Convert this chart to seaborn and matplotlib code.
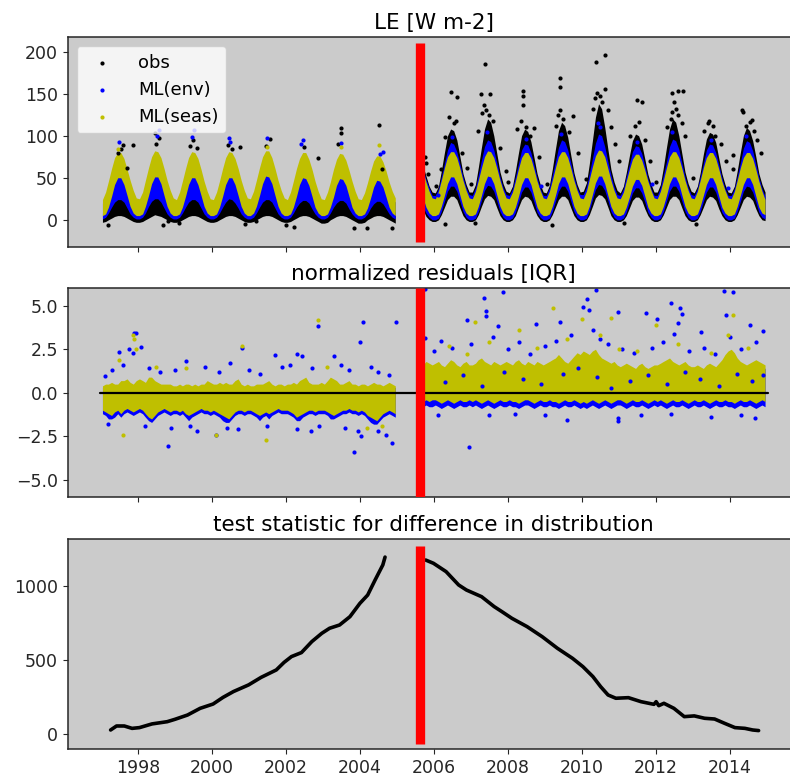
import numpy as np
import pandas as pd
import matplotlib
matplotlib.use('Agg')
import matplotlib.pyplot as plt
import seaborn as sns

# ---------------- data ----------------
# monthly envelope of the point clouds, one row per year (Jan..Dec)
# period 1: 1997-2004, period 2: Sep 2005 - Dec 2014 (first row Sep..Dec)

# LE [W m-2], ML(seas) (yellow)
le_seas_hi_p1 = [[24, 33, 46, 61, 74, 80, 80, 73, 60, 47, 35, 26],
                 [25, 33, 47, 62, 75, 82, 81, 74, 61, 47, 35, 26],
                 [24, 33, 46, 61, 74, 81, 80, 73, 60, 46, 34, 25],
                 [24, 33, 46, 61, 74, 81, 80, 73, 61, 47, 35, 26],
                 [25, 34, 47, 62, 75, 82, 82, 74, 61, 47, 35, 26],
                 [24, 33, 46, 61, 73, 80, 80, 72, 60, 46, 34, 25],
                 [24, 33, 45, 60, 72, 79, 78, 71, 59, 46, 34, 25],
                 [24, 32, 44, 58, 70, 76, 76, 69, 58, 45, 34, 26]]
le_seas_lo_p1 = [[5, 7, 15, 28, 42, 50, 50, 42, 29, 16, 8, 5],
                 [5, 7, 16, 29, 43, 51, 51, 43, 29, 16, 8, 5],
                 [5, 7, 15, 28, 42, 50, 50, 42, 29, 16, 8, 5],
                 [5, 7, 15, 28, 42, 50, 50, 42, 29, 16, 8, 5],
                 [5, 8, 16, 29, 43, 52, 51, 43, 29, 16, 8, 5],
                 [5, 7, 15, 28, 42, 50, 49, 41, 28, 15, 8, 5],
                 [5, 7, 15, 27, 41, 49, 48, 41, 28, 15, 8, 5],
                 [5, 7, 14, 26, 39, 47, 46, 39, 27, 15, 8, 5]]
le_seas_hi_p2 = [[58, 45, 34, 26],
                 [25, 34, 47, 62, 75, 81, 81, 74, 61, 47, 35, 26],
                 [25, 34, 47, 62, 75, 82, 81, 74, 61, 47, 35, 26],
                 [25, 33, 46, 61, 74, 80, 80, 73, 60, 46, 35, 26],
                 [25, 34, 47, 62, 75, 81, 81, 74, 61, 47, 35, 26],
                 [25, 34, 48, 63, 76, 83, 82, 75, 61, 47, 35, 26],
                 [25, 33, 46, 60, 72, 78, 78, 71, 59, 46, 35, 26],
                 [25, 34, 47, 62, 75, 81, 81, 74, 61, 47, 35, 26],
                 [25, 34, 47, 62, 74, 80, 80, 73, 60, 46, 35, 26],
                 [25, 34, 47, 62, 74, 80, 80, 73, 60, 46, 34, 24]]
le_seas_lo_p2 = [[26, 15, 8, 5],
                 [5, 7, 16, 29, 43, 51, 51, 43, 29, 16, 8, 5],
                 [5, 7, 16, 29, 43, 52, 51, 43, 29, 16, 8, 5],
                 [5, 7, 15, 28, 42, 50, 50, 42, 28, 15, 8, 5],
                 [5, 7, 16, 29, 43, 51, 51, 43, 29, 16, 8, 5],
                 [5, 7, 16, 30, 44, 52, 52, 43, 29, 16, 8, 5],
                 [5, 7, 15, 27, 40, 48, 48, 41, 28, 15, 8, 5],
                 [5, 7, 16, 29, 43, 51, 51, 43, 29, 16, 8, 5],
                 [5, 7, 16, 29, 42, 50, 50, 42, 28, 15, 8, 5],
                 [5, 7, 16, 29, 42, 50, 50, 42, 28, 15, 8, 6]]

# LE, ML(env) (blue)
le_env_hi_p1 = [[20, 26, 36, 50, 64, 74, 74, 64, 50, 36, 26, 20],
                [20, 26, 37, 52, 66, 78, 77, 65, 51, 37, 26, 20],
                [20, 26, 36, 51, 65, 77, 76, 65, 50, 36, 26, 20],
                [20, 26, 36, 50, 64, 75, 74, 64, 50, 36, 26, 20],
                [20, 26, 36, 50, 64, 75, 75, 64, 50, 36, 26, 20],
                [20, 26, 36, 50, 63, 73, 73, 63, 50, 36, 26, 20],
                [20, 26, 36, 49, 62, 71, 71, 62, 49, 36, 26, 20],
                [20, 25, 34, 46, 58, 66, 66, 58, 46, 35, 26, 21]]
le_env_lo_p1 = [[1, 3, 8, 15, 21, 24, 24, 21, 14, 7, 3, 1],
                [1, 3, 8, 16, 22, 25, 25, 21, 14, 7, 3, 1],
                [1, 3, 8, 15, 21, 24, 24, 21, 14, 7, 3, 1],
                [1, 3, 8, 15, 21, 25, 24, 20, 14, 7, 3, 1],
                [1, 3, 8, 15, 21, 24, 24, 21, 14, 7, 3, 1],
                [1, 3, 8, 15, 20, 23, 23, 20, 13, 7, 3, 1],
                [1, 3, 8, 15, 20, 23, 23, 20, 13, 7, 3, 1],
                [1, 3, 7, 14, 19, 22, 22, 19, 13, 7, 3, 1]]
le_env_hi_p2 = [[60, 48, 38, 29],
                [29, 37, 51, 67, 83, 92, 90, 81, 66, 51, 38, 30],
                [29, 38, 53, 71, 87, 95, 93, 83, 67, 51, 38, 30],
                [29, 37, 51, 67, 83, 90, 89, 80, 65, 50, 37, 29],
                [29, 38, 53, 69, 86, 95, 93, 83, 67, 51, 38, 30],
                [30, 39, 55, 73, 91, 102, 100, 87, 69, 53, 39, 30],
                [29, 37, 51, 66, 81, 88, 87, 79, 64, 49, 37, 29],
                [29, 38, 53, 69, 87, 96, 94, 84, 67, 51, 38, 30],
                [29, 37, 51, 67, 83, 90, 89, 80, 65, 50, 37, 29],
                [29, 37, 51, 68, 85, 94, 92, 82, 66, 50, 37, 28]]
le_env_lo_p2 = [[16, 8, 3, 0],
                [0, 2, 10, 22, 34, 40, 40, 34, 22, 10, 3, 0],
                [0, 2, 10, 23, 35, 41, 40, 34, 22, 10, 3, 0],
                [0, 2, 9, 21, 33, 39, 39, 33, 21, 9, 3, 0],
                [0, 2, 10, 22, 34, 40, 40, 34, 22, 10, 3, 0],
                [0, 2, 11, 24, 36, 42, 41, 35, 23, 10, 3, 0],
                [0, 2, 9, 21, 32, 38, 38, 32, 21, 9, 3, 0],
                [0, 2, 10, 22, 34, 40, 40, 34, 22, 10, 3, 0],
                [0, 2, 10, 22, 33, 39, 39, 33, 21, 9, 3, 0],
                [0, 2, 10, 22, 34, 40, 39, 33, 21, 9, 3, 1]]

# LE, obs (black)
le_obs_hi_p1 = [[8, 12, 18, 28, 38, 45, 45, 38, 28, 18, 12, 8],
                [8, 12, 19, 30, 40, 47, 46, 39, 28, 18, 12, 8],
                [8, 12, 18, 29, 39, 46, 45, 38, 28, 18, 12, 8],
                [8, 12, 18, 28, 38, 45, 45, 38, 28, 18, 12, 8],
                [8, 12, 18, 29, 39, 46, 45, 38, 28, 18, 12, 8],
                [8, 12, 18, 28, 37, 44, 44, 37, 27, 18, 12, 8],
                [8, 12, 18, 28, 37, 44, 43, 36, 27, 18, 12, 8],
                [8, 11, 17, 26, 35, 42, 42, 35, 26, 17, 12, 9]]
le_obs_lo_p1 = [[-3, -2, 0, 2, 4, 5, 5, 4, 2, 0, -2, -3],
                [-3, -2, 0, 2, 4, 6, 5, 4, 2, 0, -2, -3],
                [-3, -2, 0, 2, 4, 5, 5, 4, 2, 0, -2, -3],
                [-3, -2, 0, 2, 4, 5, 5, 4, 2, 0, -2, -3],
                [-3, -2, 0, 2, 4, 5, 5, 4, 2, 0, -2, -3],
                [-3, -2, 0, 2, 4, 5, 5, 4, 2, 0, -2, -4],
                [-4, -3, 0, 2, 4, 5, 5, 4, 2, 0, -2, -4],
                [-4, -3, 0, 2, 4, 5, 5, 4, 2, 0, -2, -4]]
le_obs_hi_p2 = [[64, 52, 40, 33],
                [32, 40, 58, 80, 100, 108, 106, 95, 75, 55, 42, 33],
                [33, 42, 62, 86, 108, 120, 116, 100, 78, 57, 43, 34],
                [32, 40, 58, 80, 100, 108, 105, 93, 74, 55, 42, 33],
                [32, 41, 60, 84, 106, 116, 112, 98, 76, 56, 42, 33],
                [34, 44, 66, 94, 122, 138, 132, 110, 84, 60, 45, 35],
                [32, 40, 56, 76, 94, 102, 100, 90, 72, 54, 42, 33],
                [33, 42, 62, 86, 108, 120, 116, 100, 78, 57, 43, 34],
                [32, 40, 56, 78, 96, 104, 102, 92, 73, 55, 42, 33],
                [32, 40, 58, 80, 100, 110, 106, 94, 75, 55, 42, 33]]
le_obs_lo_p2 = [[12, 4, 0, -2],
                [-2, 0, 6, 15, 24, 28, 28, 24, 14, 5, 0, -2],
                [-2, 0, 6, 16, 25, 29, 28, 24, 14, 5, 0, -2],
                [-2, 0, 5, 15, 24, 28, 27, 23, 13, 5, 0, -2],
                [-2, 0, 6, 15, 24, 28, 28, 24, 14, 5, 0, -2],
                [-2, 0, 6, 16, 26, 30, 29, 25, 15, 5, 0, -2],
                [-2, 0, 5, 14, 23, 27, 27, 23, 13, 5, 0, -2],
                [-2, 0, 6, 15, 24, 28, 28, 24, 14, 5, 0, -2],
                [-2, 0, 6, 15, 24, 28, 27, 23, 13, 5, 0, -2],
                [-2, 0, 6, 15, 24, 28, 27, 23, 13, 5, 0, -1]]

# scattered single points, LE panel (decimal year, W m-2)
obs_pt_year = [1997.20, 1997.45, 1997.55, 1997.59, 1997.70, 1997.86, 1998.45, 1998.50, 1998.56,
               1998.69, 1998.81, 1999.10, 1999.42, 1999.48, 1999.60, 2000.43, 2000.55, 2000.77,
               2000.90, 2001.20, 2001.45, 2001.58, 2002.00, 2002.23, 2002.50, 2002.88, 2003.42,
               2003.49, 2003.49, 2003.85, 2004.19, 2004.51, 2004.60, 2004.87,
               2005.75, 2005.78, 2005.85, 2006.05, 2006.20, 2006.30, 2006.40, 2006.47, 2006.55,
               2006.60, 2006.62, 2006.75, 2006.90, 2007.00, 2007.20, 2007.28, 2007.30, 2007.35,
               2007.39, 2007.42, 2007.50, 2007.53, 2007.60, 2007.80, 2007.95, 2008.00, 2008.25,
               2008.35, 2008.40, 2008.40, 2008.40, 2008.50, 2008.60, 2008.70, 2008.85, 2009.05,
               2009.30, 2009.35, 2009.41, 2009.41, 2009.42, 2009.50, 2009.65, 2009.76, 2009.90,
               2010.10, 2010.30, 2010.35, 2010.39, 2010.41, 2010.50, 2010.55, 2010.63, 2010.64,
               2010.70, 2010.80, 2010.90, 2011.00, 2011.30, 2011.45, 2011.49, 2011.55, 2011.62,
               2011.70, 2011.85, 2012.00, 2012.30, 2012.40, 2012.43, 2012.45, 2012.50, 2012.55,
               2012.59, 2012.60, 2012.70, 2012.73, 2012.80, 2013.00, 2013.30, 2013.40, 2013.45,
               2013.55, 2013.60, 2013.75, 2013.90, 2014.08, 2014.10, 2014.32, 2014.35, 2014.45,
               2014.55, 2014.60, 2014.65, 2014.75, 2014.85, 2006.30, 2007.10, 2009.20, 2011.15,
               2013.10]
obs_pt_val = [-6, 80, 84, 89, 62, 89, 103, 90, 97,
              -6, -2, -4, 88, 95, 85, 89, 84, 87,
              -5, -1, 88, 96, -6, -9, 86, 74, 90,
              103, 109, -10, -10, 113, 60, -10,
              75, 68, 55, 40, 60, 98, 122, 152, 115,
              118, 146, 80, 62, 42, 105, 149, 127, 137,
              185, 131, 125, 149, 118, 85, 58, 45, 108,
              118, 137, 147, 153, 110, 100, 109, 75, 42,
              112, 125, 158, 169, 131, 120, 104, 124, 80,
              48, 132, 145, 188, 151, 147, 140, 155, 196,
              130, 110, 90, 70, 100, 112, 142, 116, 140,
              95, 70, 45, 110, 120, 151, 128, 140, 132,
              153, 125, 115, 153, 100, 50, 105, 115, 118,
              112, 100, 90, 70, 77, 60, 130, 128, 112,
              116, 119, 105, 95, 80, -5, -4, -6, -4,
              -5]
env_pt_year = [1997.50, 1998.52, 1998.56, 1999.45, 1999.51, 2000.45, 2000.50, 2001.50, 2002.40,
               2002.46, 2003.49, 2004.55, 2004.62, 2006.50, 2007.45, 2008.50, 2009.45, 2010.45,
               2010.50, 2011.50, 2012.45, 2013.50, 2014.45, 2006.10, 2008.90, 2011.90, 2013.95]
env_pt_val = [93, 100, 107, 98, 107, 97, 92, 97, 90,
              95, 91, 78, 81, 98, 104, 96, 102, 115,
              110, 92, 104, 95, 100, 30, 40, 42, 38]
seas_pt_year = [1997.45, 2001.50, 2003.50, 2004.51]
seas_pt_val = [84, 86, 86, 89]

# normalized residuals [IQR], envelopes
res_seas_hi_p1 = [[0.4, 0.5, 0.5, 0.6, 0.5, 0.5, 0.7, 0.7, 0.8, 0.6, 0.5, 0.7],
                  [0.8, 0.7, 0.6, 0.9, 0.9, 0.7, 0.6, 0.5, 0.5, 0.5, 0.5, 0.4],
                  [0.4, 0.5, 0.4, 0.5, 0.5, 0.4, 0.5, 0.4, 0.5, 0.5, 0.7, 0.6],
                  [0.5, 0.5, 0.6, 0.5, 0.6, 0.5, 0.5, 0.7, 0.8, 0.5, 0.4, 0.5],
                  [0.4, 0.4, 0.5, 0.5, 0.5, 0.6, 0.7, 0.5, 0.4, 0.5, 0.5, 0.4],
                  [0.5, 0.5, 0.6, 0.5, 0.7, 0.8, 0.9, 0.6, 0.5, 0.5, 0.5, 0.6],
                  [0.5, 0.7, 0.9, 0.8, 0.7, 0.5, 0.5, 0.6, 0.7, 0.5, 0.5, 0.4],
                  [0.5, 0.5, 0.4, 0.5, 0.6, 0.5, 0.5, 0.4, 0.5, 0.6, 0.5, 0.4]]
res_seas_lo_p1 = [[-1.0, -1.1, -1.2, -1.3, -1.1, -1.0, -1.2, -1.0, -0.9, -1.0, -1.1, -1.0],
                  [-0.9, -1.0, -1.2, -1.4, -1.5, -1.3, -1.1, -1.0, -0.9, -1.0, -1.1, -1.0],
                  [-1.0, -1.1, -1.0, -1.2, -1.3, -1.2, -1.1, -1.0, -0.9, -1.0, -1.0, -1.1],
                  [-1.0, -1.1, -1.2, -1.3, -1.4, -1.5, -1.3, -1.1, -1.0, -1.0, -1.1, -1.0],
                  [-1.0, -1.1, -1.2, -1.3, -1.2, -1.1, -1.2, -1.1, -1.0, -0.9, -1.0, -1.0],
                  [-1.0, -1.1, -1.2, -1.4, -1.3, -1.2, -1.1, -1.0, -1.0, -1.1, -1.0, -1.0],
                  [-1.0, -1.1, -1.2, -1.3, -1.2, -1.1, -1.0, -1.0, -0.9, -1.0, -1.0, -1.1],
                  [-1.0, -1.1, -1.3, -1.4, -1.5, -1.6, -1.4, -1.2, -1.1, -1.0, -1.1, -1.2]]
res_env_hi_p1 = [[0.3, 0.4, 0.4, 0.5, 0.4, 0.4, 0.6, 0.6, 0.7, 0.5, 0.4, 0.6],
                 [0.7, 0.6, 0.5, 0.8, 0.8, 0.6, 0.5, 0.4, 0.4, 0.4, 0.4, 0.3],
                 [0.3, 0.4, 0.3, 0.4, 0.4, 0.3, 0.4, 0.3, 0.4, 0.4, 0.6, 0.5],
                 [0.4, 0.4, 0.5, 0.4, 0.5, 0.4, 0.4, 0.6, 0.7, 0.4, 0.3, 0.4],
                 [0.3, 0.3, 0.4, 0.4, 0.4, 0.5, 0.6, 0.4, 0.3, 0.4, 0.4, 0.3],
                 [0.4, 0.4, 0.5, 0.4, 0.6, 0.7, 0.8, 0.5, 0.4, 0.4, 0.4, 0.5],
                 [0.4, 0.6, 0.8, 0.7, 0.6, 0.4, 0.4, 0.5, 0.6, 0.4, 0.4, 0.3],
                 [0.4, 0.4, 0.3, 0.4, 0.5, 0.4, 0.4, 0.3, 0.4, 0.5, 0.4, 0.3]]
res_env_lo_p1 = [[-1.2, -1.3, -1.5, -1.5, -1.4, -1.2, -1.4, -1.2, -1.1, -1.2, -1.3, -1.2],
                 [-1.1, -1.2, -1.4, -1.6, -1.7, -1.5, -1.3, -1.2, -1.1, -1.2, -1.3, -1.2],
                 [-1.2, -1.3, -1.2, -1.4, -1.6, -1.4, -1.3, -1.2, -1.1, -1.2, -1.2, -1.3],
                 [-1.2, -1.3, -1.4, -1.6, -1.7, -1.7, -1.5, -1.3, -1.2, -1.2, -1.3, -1.2],
                 [-1.2, -1.3, -1.4, -1.6, -1.4, -1.3, -1.5, -1.3, -1.2, -1.1, -1.2, -1.2],
                 [-1.2, -1.3, -1.4, -1.6, -1.6, -1.4, -1.3, -1.2, -1.2, -1.3, -1.2, -1.2],
                 [-1.2, -1.3, -1.5, -1.5, -1.4, -1.3, -1.2, -1.2, -1.1, -1.2, -1.2, -1.3],
                 [-1.2, -1.3, -1.5, -1.7, -1.8, -1.8, -1.6, -1.4, -1.3, -1.2, -1.3, -1.4]]
res_seas_hi_p2 = [[1.6, 1.8, 1.7, 1.6],
                  [1.7, 1.8, 1.6, 1.5, 1.7, 1.9, 1.8, 1.6, 1.5, 1.7, 1.8, 1.6],
                  [1.6, 1.7, 1.9, 2.0, 1.8, 1.7, 1.6, 1.8, 1.7, 1.6, 1.7, 1.8],
                  [1.7, 1.6, 1.8, 1.9, 1.7, 1.6, 1.8, 1.7, 1.6, 1.8, 1.7, 1.6],
                  [1.7, 1.8, 1.9, 2.0, 2.2, 2.0, 1.8, 1.7, 1.9, 2.1, 2.3, 2.2],
                  [2.4, 2.3, 2.2, 2.4, 2.5, 2.2, 2.0, 1.9, 1.8, 1.7, 1.8, 1.6],
                  [1.5, 1.6, 1.7, 1.6, 1.5, 1.4, 1.6, 1.7, 1.5, 1.4, 1.5, 1.6],
                  [1.6, 1.7, 1.8, 1.9, 2.0, 1.8, 1.7, 1.6, 1.7, 1.8, 1.6, 1.5],
                  [1.5, 1.6, 1.5, 1.4, 1.6, 1.7, 1.6, 1.5, 1.7, 1.9, 2.2, 2.4],
                  [2.5, 2.3, 2.0, 1.8, 1.7, 1.6, 1.7, 1.8, 1.9, 1.8, 1.7, 1.6]]
res_seas_lo_p2 = [[-0.5, -0.4, -0.5, -0.4],
                  [-0.4, -0.5, -0.6, -0.5, -0.4, -0.5, -0.6, -0.5, -0.4, -0.5, -0.5, -0.4],
                  [-0.5, -0.4, -0.5, -0.6, -0.5, -0.4, -0.5, -0.6, -0.5, -0.4, -0.5, -0.5],
                  [-0.4, -0.5, -0.5, -0.6, -0.5, -0.4, -0.4, -0.5, -0.6, -0.5, -0.4, -0.5],
                  [-0.5, -0.4, -0.5, -0.5, -0.6, -0.5, -0.4, -0.5, -0.5, -0.4, -0.5, -0.6],
                  [-0.5, -0.6, -0.5, -0.4, -0.5, -0.6, -0.5, -0.4, -0.5, -0.6, -0.5, -0.4],
                  [-0.4, -0.5, -0.6, -0.5, -0.4, -0.5, -0.5, -0.4, -0.5, -0.6, -0.5, -0.4],
                  [-0.5, -0.4, -0.5, -0.6, -0.5, -0.4, -0.5, -0.5, -0.4, -0.5, -0.6, -0.5],
                  [-0.4, -0.5, -0.5, -0.4, -0.5, -0.6, -0.5, -0.4, -0.5, -0.5, -0.4, -0.5],
                  [-0.5, -0.6, -0.5, -0.4, -0.5, -0.5, -0.4, -0.5, -0.6, -0.5, -0.4, -0.5]]
res_env_hi_p2 = [[1.4, 1.6, 1.5, 1.4],
                 [1.5, 1.6, 1.4, 1.3, 1.5, 1.7, 1.6, 1.4, 1.3, 1.5, 1.6, 1.4],
                 [1.4, 1.5, 1.7, 1.8, 1.6, 1.5, 1.4, 1.6, 1.5, 1.4, 1.5, 1.6],
                 [1.5, 1.4, 1.6, 1.7, 1.5, 1.4, 1.6, 1.5, 1.4, 1.6, 1.5, 1.4],
                 [1.5, 1.6, 1.7, 1.8, 2.0, 1.8, 1.6, 1.5, 1.7, 1.9, 2.1, 2.0],
                 [2.2, 2.1, 2.0, 2.2, 2.3, 2.0, 1.8, 1.7, 1.6, 1.5, 1.6, 1.4],
                 [1.3, 1.4, 1.5, 1.4, 1.3, 1.2, 1.4, 1.5, 1.3, 1.2, 1.3, 1.4],
                 [1.4, 1.5, 1.6, 1.7, 1.8, 1.6, 1.5, 1.4, 1.5, 1.6, 1.4, 1.3],
                 [1.3, 1.4, 1.3, 1.2, 1.4, 1.5, 1.4, 1.3, 1.5, 1.7, 2.0, 2.2],
                 [2.3, 2.1, 1.8, 1.6, 1.5, 1.4, 1.5, 1.6, 1.7, 1.6, 1.5, 1.4]]
res_env_lo_p2 = [[-0.8, -0.7, -0.8, -0.8],
                 [-0.7, -0.8, -0.9, -0.8, -0.7, -0.8, -0.9, -0.8, -0.7, -0.8, -0.8, -0.7],
                 [-0.8, -0.7, -0.8, -0.9, -0.8, -0.7, -0.8, -0.9, -0.8, -0.7, -0.8, -0.8],
                 [-0.7, -0.8, -0.8, -0.9, -0.8, -0.7, -0.7, -0.8, -0.9, -0.8, -0.7, -0.8],
                 [-0.8, -0.7, -0.8, -0.8, -0.9, -0.8, -0.7, -0.8, -0.8, -0.7, -0.8, -0.9],
                 [-0.8, -0.9, -0.8, -0.7, -0.8, -0.9, -0.8, -0.7, -0.8, -0.9, -0.8, -0.7],
                 [-0.7, -0.8, -0.9, -0.8, -0.7, -0.8, -0.8, -0.7, -0.8, -0.9, -0.8, -0.7],
                 [-0.8, -0.7, -0.8, -0.9, -0.8, -0.7, -0.8, -0.8, -0.7, -0.8, -0.9, -0.8],
                 [-0.7, -0.8, -0.8, -0.7, -0.8, -0.9, -0.8, -0.7, -0.8, -0.8, -0.7, -0.8],
                 [-0.8, -0.9, -0.8, -0.7, -0.8, -0.8, -0.7, -0.8, -0.9, -0.8, -0.7, -0.8]]

# scattered single points, residual panel (decimal year, IQR)
res_env_pt_year = [1997.12, 1997.48, 1997.77, 1997.86, 1997.88, 1997.95, 1998.09, 1998.81, 2000.81,
                   2001.71, 2002.10, 2002.30, 2002.43, 2002.86, 2003.31, 2003.99, 2004.08, 2004.98,
                   2003.84, 2004.86, 2003.96, 2004.02, 1999.59, 2002.68, 2000.12,
                   1997.30, 1997.60, 1998.30, 1998.60, 1999.00, 1999.30, 1999.80, 2000.20, 2000.50,
                   2001.00, 2001.30, 2001.90, 2002.70, 2003.50, 2003.70, 2004.30, 2004.50, 2004.80,
                   1997.20, 1998.20, 1998.90, 1999.40, 2000.40, 2000.70, 2001.50, 2002.30, 2002.90,
                   2003.60, 2004.50, 2004.70,
                   2005.75, 2005.75, 2007.88, 2007.35, 2007.40, 2007.40, 2006.89, 2006.96, 2007.73,
                   2008.75, 2009.42, 2010.14, 2010.03, 2010.39, 2010.20, 2010.99, 2011.74, 2012.03,
                   2012.41, 2012.66, 2012.70, 2012.60, 2013.23, 2013.84, 2014.10, 2013.90, 2014.55,
                   2014.89, 2010.97, 2010.97, 2009.59, 2014.67,
                   2006.00, 2006.20, 2006.50, 2007.00, 2007.60, 2008.00, 2008.30, 2008.60, 2009.00,
                   2009.30, 2009.70, 2010.30, 2010.50, 2010.70, 2011.10, 2011.40, 2011.90, 2012.20,
                   2012.50, 2012.90, 2013.30, 2013.60, 2014.00, 2014.30, 2014.70,
                   2006.30, 2006.80, 2007.30, 2007.90, 2008.40, 2008.90, 2009.50, 2009.90, 2010.40,
                   2010.80, 2011.30, 2011.80, 2012.30, 2012.80, 2013.20, 2013.70, 2014.20, 2014.60,
                   2014.90, 2006.10, 2007.50, 2008.20, 2009.00, 2011.60, 2012.40, 2013.50, 2014.30]
res_env_pt_val = [0.96, 2.34, 2.50, 2.27, 3.46, 3.42, 2.63, -3.04, 2.56,
                  2.15, 1.60, 2.20, 2.10, 3.85, 2.10, 2.92, 4.04, 4.04,
                  -3.40, -2.88, -2.20, -2.50, -2.20, -2.20, -2.40,
                  1.3, 1.6, 1.4, 1.2, 1.3, 1.8, 1.5, 1.2, 1.7,
                  1.3, 1.1, 1.5, 1.4, 1.6, 1.3, 1.5, 1.2, 1.0,
                  -1.8, -1.9, -2.0, -1.9, -2.0, -2.1, -1.9, -2.1, -1.9,
                  -2.0, -2.2, -2.4,
                  5.96, 3.17, 5.80, 5.44, 4.67, 4.42, 4.19, -3.12, 3.85,
                  3.94, 4.04, 5.38, 4.90, 5.92, 4.75, 4.65, 4.60, 4.23,
                  5.15, 4.87, 4.52, 4.00, 3.50, 5.83, 5.81, 4.48, 3.88,
                  3.56, -1.44, -1.63, -1.58, -1.44,
                  2.4, 3.0, 2.6, 2.8, 3.2, 2.5, 2.9, 2.2, 2.7,
                  3.0, 3.3, 3.6, 3.1, 2.8, 2.5, 2.3, 2.6, 2.9,
                  3.4, 2.4, 2.6, 2.2, 3.2, 2.5, 2.9,
                  0.6, 1.0, 0.4, 1.2, 0.8, 0.5, 1.1, 1.4, 0.9,
                  0.3, 0.7, 1.0, 0.5, 1.2, 0.8, 0.4, 1.1, 0.7,
                  1.0, -1.3, -1.3, -1.2, -1.3, -1.3, -1.2, -1.4, -1.3]
res_seas_pt_year = [1997.86, 1997.88, 1997.50, 2000.81, 2002.86, 2001.47, 1997.59, 2000.12, 1997.95,
                    1998.50, 2003.10, 2004.20, 2004.60, 1999.30,
                    2009.23, 2010.00, 2007.10, 2010.80, 2012.00, 2014.10, 2008.30, 2006.40, 2007.50,
                    2008.80, 2009.60, 2010.50, 2011.50, 2012.60, 2013.50, 2013.95, 2014.50, 2006.90,
                    2011.00]
res_seas_pt_val = [3.3, 3.1, 1.9, 2.7, 4.17, -2.7, -2.4, -2.4, 2.5,
                   1.5, 1.5, -2.0, -1.9, 1.4,
                   4.85, 4.23, 4.04, 4.30, 3.90, 4.48, 3.60, 2.70, 2.90,
                   2.60, 3.10, 3.30, 2.40, 2.80, 2.30, 3.30, 2.60, 2.20,
                   2.50]

# test statistic
stat_year_p1 = [1997.26, 1997.42, 1997.63, 1997.84, 1998.04, 1998.38, 1998.79, 1999.00, 1999.34,
                1999.68, 2000.03, 2000.30, 2000.58, 2000.99, 2001.33, 2001.74, 2001.95, 2002.15,
                2002.42, 2002.70, 2002.97, 2003.18, 2003.45, 2003.73, 2004.00, 2004.21, 2004.41,
                2004.62, 2004.68]
stat_p1 = [29, 56, 56, 40, 45, 70, 85, 101, 130,
           175, 204, 249, 288, 333, 384, 434, 485, 524,
           551, 625, 681, 715, 737, 793, 883, 939, 1040,
           1142, 1195]
stat_year_p2 = [2005.78, 2005.99, 2006.33, 2006.67, 2006.88, 2007.29, 2007.63, 2007.84, 2008.11,
                2008.52, 2008.93, 2009.34, 2009.75, 2010.03, 2010.30, 2010.51, 2010.71, 2010.92,
                2011.26, 2011.60, 2011.95, 2012.01, 2012.08, 2012.22, 2012.49, 2012.77, 2013.04,
                2013.32, 2013.59, 2013.86, 2014.14, 2014.41, 2014.62, 2014.78]
stat_p2 = [1175, 1153, 1097, 1007, 973, 928, 861, 827, 782,
           726, 658, 580, 512, 456, 389, 321, 265, 243,
           247, 220, 202, 220, 193, 209, 175, 119, 124,
           108, 103, 74, 45, 40, 29, 25]

break_year = 2005.62
zero_line_year = [1996.96, 2015.03]
zero_line_val = [0, 0]
x_ticks = [1998, 2000, 2002, 2004, 2006, 2008, 2010, 2012, 2014]

# ---------------- helpers ----------------
months_p1 = pd.date_range('1997-01-01', '2004-12-01', freq='MS') + pd.Timedelta(days=14)
months_p2 = pd.date_range('2005-09-01', '2014-12-01', freq='MS') + pd.Timedelta(days=14)
t_p1 = np.asarray(months_p1.year + (months_p1.dayofyear - 0.5) / 365.25)
t_p2 = np.asarray(months_p2.year + (months_p2.dayofyear - 0.5) / 365.25)


def flat(rows):
    return np.array([v for row in rows for v in row], dtype=float)


def band(ax, lo1, hi1, lo2, hi2, color):
    ax.fill_between(t_p1, flat(lo1), flat(hi1), color=color, lw=0, zorder=1)
    ax.fill_between(t_p2, flat(lo2), flat(hi2), color=color, lw=0, zorder=1)


# ---------------- plotting ----------------
sns.set_style('ticks', {'axes.facecolor': '#cbcbcb', 'axes.edgecolor': '0.15'})
plt.rcParams['font.family'] = 'DejaVu Sans'
plt.rcParams['xtick.labelsize'] = 12.5
plt.rcParams['ytick.labelsize'] = 12.5
plt.rcParams['axes.titlesize'] = 15.5
plt.rcParams['axes.linewidth'] = 1.1
plt.rcParams['text.color'] = 'black'

blk, blu, yel = 'k', 'b', 'y'

fig, axes = plt.subplots(3, 1, figsize=(7.9, 7.8), dpi=100, sharex=True)
boxes = [(0.6837, 0.9522), (0.3624, 0.6304), (0.0394, 0.3086)]
for ax, (b, t) in zip(axes, boxes):
    ax.set_position([0.0857, b, 1.0127 - 0.0857, t - b])

# LE panel
ax = axes[0]
band(ax, le_obs_lo_p1, le_obs_hi_p1, le_obs_lo_p2, le_obs_hi_p2, blk)
band(ax, le_env_lo_p1, le_env_hi_p1, le_env_lo_p2, le_env_hi_p2, blu)
band(ax, le_seas_lo_p1, le_seas_hi_p1, le_seas_lo_p2, le_seas_hi_p2, yel)
sns.scatterplot(x=obs_pt_year, y=obs_pt_val, ax=ax, color=blk, s=9, linewidth=0, label='obs', zorder=2)
sns.scatterplot(x=env_pt_year, y=env_pt_val, ax=ax, color=blu, s=9, linewidth=0, label='ML(env)', zorder=2)
sns.scatterplot(x=seas_pt_year, y=seas_pt_val, ax=ax, color=yel, s=9, linewidth=0, label='ML(seas)', zorder=2)
ax.axvline(break_year, 0.024, 0.974, color='red', lw=6.7, solid_capstyle='butt', zorder=5)
ax.set_ylim(-32, 217)
ax.set_yticks([0, 50, 100, 150, 200])
ax.set_title('LE [W m-2]')
ax.legend(loc='upper left', fontsize=13, handletextpad=1.0, borderaxespad=0.5,
          frameon=True, framealpha=0.8, edgecolor='0.8', facecolor='white')

# residual panel
ax = axes[1]
band(ax, res_env_lo_p1, res_env_hi_p1, res_env_lo_p2, res_env_hi_p2, blu)
band(ax, res_seas_lo_p1, res_seas_hi_p1, res_seas_lo_p2, res_seas_hi_p2, yel)
sns.scatterplot(x=res_env_pt_year, y=res_env_pt_val, ax=ax, color=blu, s=9, linewidth=0, zorder=2)
sns.scatterplot(x=res_seas_pt_year, y=res_seas_pt_val, ax=ax, color=yel, s=9, linewidth=0, zorder=2)
sns.lineplot(x=zero_line_year, y=zero_line_val, ax=ax, color='k', lw=1.6, zorder=3)
ax.axvline(break_year, 0, 1, color='red', lw=6.7, solid_capstyle='butt', zorder=5)
ax.set_ylim(-6, 6)
ax.set_yticks([-5, -2.5, 0, 2.5, 5])
ax.set_title('normalized residuals [IQR]')

# test statistic panel
ax = axes[2]
sns.lineplot(x=stat_year_p1, y=stat_p1, ax=ax, color='k', lw=2.6, sort=False, estimator=None)
sns.lineplot(x=stat_year_p2, y=stat_p2, ax=ax, color='k', lw=2.6, sort=False, estimator=None)
ax.axvline(break_year, 0.024, 0.97, color='red', lw=6.7, solid_capstyle='butt', zorder=5)
ax.set_ylim(-101, 1315)
ax.set_yticks([0, 500, 1000])
ax.set_title('test statistic for difference in distribution')

for ax in axes:
    ax.set_xlim(1996.1, 2015.9)
    ax.set_xticks(x_ticks)
    ax.set_xlabel('')
    ax.set_ylabel('')
    ax.grid(False)
axes[2].set_xticklabels([str(y) for y in x_ticks])
for ax in axes[:2]:
    ax.tick_params(labelbottom=False)

fig.savefig('out.png', dpi=100, facecolor='white')
